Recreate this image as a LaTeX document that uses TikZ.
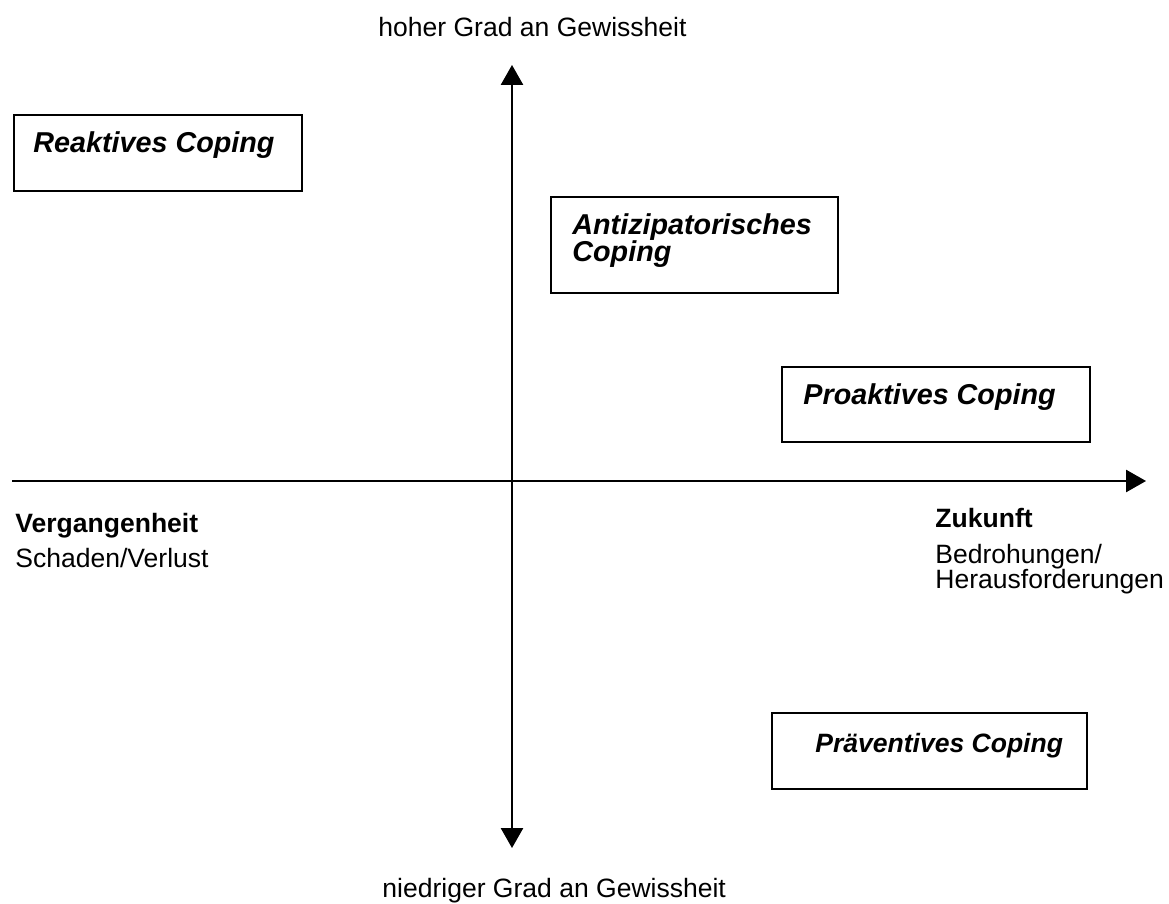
\documentclass[tikz,border=0pt]{standalone}
\usepackage{fontspec}
\setmainfont{Liberation Sans}
\usetikzlibrary{arrows.meta}

\tikzset{
  axis/.style={line width=0.9pt, -{Triangle[length=9pt,width=10pt]}},
  bothaxis/.style={line width=0.9pt, {Triangle[length=9pt,width=10pt]}-{Triangle[length=9pt,width=10pt]}},
  copebox/.style={draw, line width=0.9pt},
  copelabel/.style={anchor=base west, inner sep=0pt, align=left,
    font=\fontsize{13}{12.6}\selectfont\bfseries\itshape},
  axislabel/.style={anchor=base west, inner sep=0pt, align=left,
    font=\fontsize{12}{11.2}\selectfont},
}

\begin{document}
\begin{tikzpicture}[x=0.4525pt, y=-0.4525pt]

    % Picture size in pixels (origin top left, y runs downwards)
    \pgfmathsetmacro{\picw}{1169}
    \pgfmathsetmacro{\pich}{904}
    \useasboundingbox (0,0) rectangle (\picw, \pich);

    % Where the two axes cross
    \pgfmathsetmacro{\ox}{512}
    \pgfmathsetmacro{\oy}{481}

    % End points of the axes
    \coordinate (xstart) at (12, \oy);
    \coordinate (xend) at (1146, \oy);
    \coordinate (ytop) at (\ox, 65);
    \coordinate (ybot) at (\ox, 848);

    % Draw the axes
    \draw[axis] (xstart) -- (xend);
    \draw[bothaxis] (ybot) -- (ytop);

    % Axis labels (for two lines the base is the last line)
    \node[axislabel] (hoch) at (378, 37) {hoher Grad an Gewissheit};
    \node[axislabel] (niedrig) at (382, 897) {niedriger Grad an Gewissheit};
    \node[axislabel, font=\fontsize{12}{11.2}\selectfont\bfseries] (verg) at (15, 533) {Vergangenheit};
    \node[axislabel] (schaden) at (15, 567) {Schaden/Verlust};
    \node[axislabel, font=\fontsize{12}{11.2}\selectfont\bfseries] (zuk) at (935, 528) {Zukunft};
    \node[axislabel] (bedroh) at (935, 588) {Bedrohungen/\\Herausforderungen};

    % The four kinds of coping, each in its box
    \draw[copebox] (14, 115) rectangle (302, 191);
    \node[copelabel] (reaktiv) at (33, 153) {Reaktives Coping};

    \draw[copebox] (551, 197) rectangle (838, 293);
    \node[copelabel] (antizip) at (572, 262) {Antizipatorisches\\Coping};

    \draw[copebox] (782, 367) rectangle (1090, 442);
    \node[copelabel] (proaktiv) at (803, 405) {Proaktives Coping};

    % this one is set a point smaller
    \draw[copebox] (772, 713) rectangle (1087, 789);
    \node[copelabel, font=\fontsize{12}{12}\selectfont\bfseries\itshape] (praevent) at (815, 752) {Präventives Coping};

\end{tikzpicture}
\end{document}
